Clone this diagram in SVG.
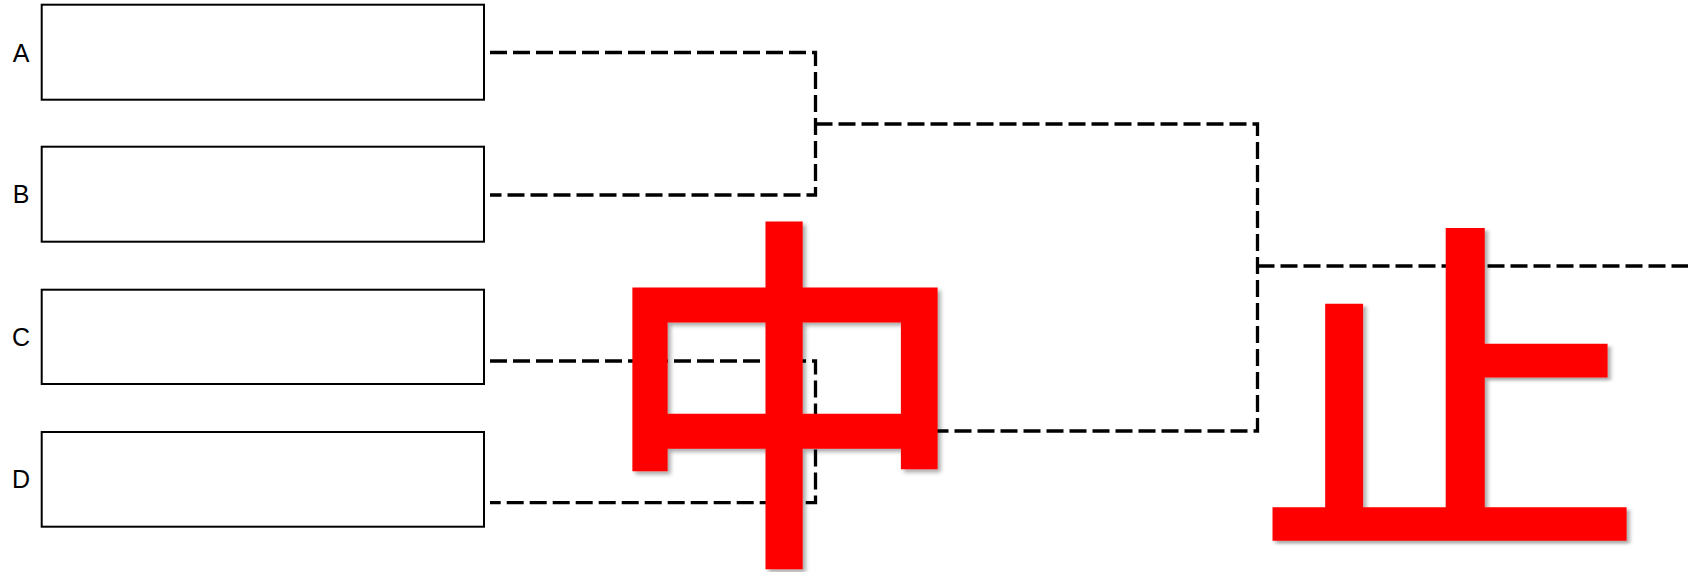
<svg xmlns="http://www.w3.org/2000/svg" width="1688" height="572" viewBox="0 0 1688 572">
<style>
.box{fill:#fff;stroke:#000;stroke-width:2}
.lbl{font-family:"Liberation Sans",Arial,sans-serif;font-size:25px;fill:#000;text-anchor:middle}
.conn{fill:none;stroke:#000;stroke-width:3.3;stroke-dasharray:17 6}
.big{font-family:"Noto Sans CJK JP","Noto Sans CJK SC",sans-serif;font-weight:500;fill:#ff0000;text-anchor:middle;filter:url(#sh)}
</style>
<defs>
<filter id="sh" x="-10%" y="-10%" width="130%" height="130%">
<feDropShadow dx="3" dy="3" stdDeviation="2" flood-color="#000" flood-opacity="0.35"/>
</filter>
</defs>
<g id="nodeA"><rect class="box" x="41.7" y="4.7" width="442.3" height="95"/><text class="lbl" x="21" y="61.7">A</text></g>
<g id="nodeB"><rect class="box" x="41.7" y="146.7" width="442.3" height="95"/><text class="lbl" x="21" y="203.3">B</text></g>
<g id="nodeC"><rect class="box" x="41.7" y="289.7" width="442.3" height="94.3"/><text class="lbl" x="21" y="346">C</text></g>
<g id="nodeD"><rect class="box" x="41.7" y="432" width="442.3" height="94.7"/><text class="lbl" x="21" y="488">D</text></g>
<g id="connectors">
<path class="conn" d="M490 52.5H815.5V195H490"/>
<path class="conn" d="M490 361H815.5V502.7H490"/>
<path class="conn" d="M815.5 124H1257.5V431H815.5"/>
<path class="conn" d="M1257.5 266H1688"/>
</g>
<g id="stamp">
<text class="big" x="785" y="538" font-size="375">中</text>
<text class="big" transform="translate(1450 528.7) scale(1 0.916)" x="0" y="0" font-size="390">止</text>
</g>
</svg>
